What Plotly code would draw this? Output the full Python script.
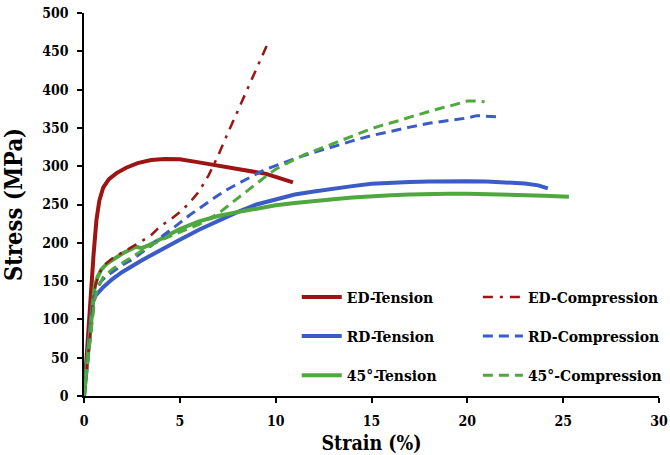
import plotly.graph_objects as go

# ---------------- data ----------------
ed_t_x = [0, 0.1, 0.2, 0.3, 0.4, 0.5, 0.65, 0.8, 1.0, 1.3, 1.7, 2.2, 2.8, 3.5, 4.2, 5.0, 6.0, 7.0, 8.0, 9.0, 9.5, 10.0, 10.9]
ed_t_y = [0, 40, 80, 120, 150, 185, 230, 255, 272, 283, 291, 298, 304, 308, 309.5, 309, 305, 301, 297, 292.5, 290, 286, 279]

ed_c_x = [0, 0.15, 0.3, 0.45, 0.6, 0.8, 1.0, 1.5, 2.0, 2.5, 3.0, 3.5, 4.0, 4.5, 5.0, 5.5, 6.0, 6.5, 7.0, 7.5, 8.0, 8.5, 9.0, 9.6]
ed_c_y = [0, 35, 75, 120, 145, 160, 170, 180, 187, 195, 202, 210, 222, 230, 240, 252, 267, 288, 314, 343, 371, 400, 428, 461]

rd_t_x = [0, 0.15, 0.3, 0.45, 0.6, 0.8, 1.0, 1.5, 2, 3, 4, 5, 6, 7, 8, 9, 10, 11, 12, 13, 14, 15, 16, 17, 18, 19, 20, 21, 22, 23, 23.7, 24.2]
rd_t_y = [0, 45, 90, 122, 131, 137, 142, 153, 162, 177, 191, 204, 217, 229, 240, 250, 257, 263, 267, 271, 274, 277, 278.5, 279.5, 280, 280.5, 280.5, 280, 279, 277.5, 275, 271]

rd_c_x = [0, 0.2, 0.4, 0.55, 0.7, 0.9, 1.2, 1.6, 2, 2.5, 3, 3.5, 4, 4.5, 5, 5.5, 6, 6.5, 7, 7.5, 8, 8.5, 9, 9.5, 10, 11, 12, 13, 14, 15, 16, 17, 18, 19, 20, 20.5, 21, 21.5, 21.8]
rd_c_y = [0, 50, 100, 130, 142, 150, 157, 164, 171, 178, 187, 196, 207, 216, 226, 236, 245, 254, 262, 270, 277, 284, 290, 296, 301, 310, 318, 326, 333, 340, 346, 351, 356, 360, 363, 366, 365, 364, 364]

d45_t_x = [0, 0.15, 0.3, 0.45, 0.55, 0.7, 0.9, 1.2, 1.6, 2.0, 2.4, 2.7, 3.0, 3.4, 4, 5, 6, 7, 8, 9, 10, 11, 12, 13, 14, 15, 16, 17, 18, 19, 20, 21, 22, 23, 24, 25.3]
d45_t_y = [0, 40, 85, 125, 142, 155, 165, 173, 180, 186, 191, 195, 193, 197, 205, 218, 228, 235, 240, 245, 249, 252, 255, 257, 259, 261, 262, 263, 264, 264, 264, 263.5, 262.5, 262, 261.5, 260]

d45_c_x = [0, 0.2, 0.4, 0.55, 0.7, 1.0, 1.5, 2, 2.5, 3, 3.5, 4, 4.5, 5, 5.5, 6, 6.5, 7, 7.5, 8, 8.5, 9, 9.5, 10, 10.5, 11, 11.5, 12, 12.5, 13, 13.5, 14, 14.5, 15, 15.5, 16, 16.5, 17, 17.5, 18, 18.5, 19, 19.5, 20, 20.5, 20.9]
d45_c_y = [0, 45, 95, 125, 140, 155, 166, 174, 182, 190, 197, 203, 209, 214, 219, 224, 231, 238, 248, 258, 268, 278, 287, 296, 303, 309, 315, 320, 325, 330, 335, 340, 345, 349, 353, 356, 360, 364, 368, 371, 375, 378, 382, 385, 385, 384]

x_ticks = [0, 5, 10, 15, 20, 25, 30]
y_ticks = [0, 50, 100, 150, 200, 250, 300, 350, 400, 450, 500]

RED = "#9C1414"
BLUE = "#3B5BC6"
GREEN = "#4EA83E"
SERIF = "DejaVu Serif Condensed, DejaVu Serif"

fig = go.Figure()

series = [
    ("<b>ED-Tension</b>", ed_t_x, ed_t_y, RED, "solid", 4, "legend", "g1"),
    ("<b>RD-Tension</b>", rd_t_x, rd_t_y, BLUE, "solid", 4, "legend", "g2"),
    ("<b>45°-Tension</b>", d45_t_x, d45_t_y, GREEN, "solid", 4, "legend", "g3"),
    ("<b>ED-Compression</b>", ed_c_x, ed_c_y, RED, "10px,7px,3px,7px", 2.5, "legend2", "g4"),
    ("<b>RD-Compression</b>", rd_c_x, rd_c_y, BLUE, "10px,6px", 3, "legend2", "g5"),
    ("<b>45°-Compression</b>", d45_c_x, d45_c_y, GREEN, "10px,6px", 3, "legend2", "g6"),
]
for name, xs, ys, col, dash, w, leg, grp in series:
    fig.add_trace(go.Scatter(x=xs, y=ys, mode="lines", name=name,
                             line=dict(color=col, width=w, dash=dash),
                             legend=leg, legendgroup=grp))

legend_common = dict(
    font=dict(family=SERIF, size=15.5, color="black"),
    bgcolor="rgba(0,0,0,0)", borderwidth=0,
    tracegroupgap=16, itemwidth=40, traceorder="grouped",
    xanchor="left", yanchor="top", xref="paper", yref="paper",
)

fig.update_layout(
    width=670, height=455,
    margin=dict(l=84, r=11, t=13, b=59, autoexpand=False),
    paper_bgcolor="white", plot_bgcolor="white",
    font=dict(family=SERIF, color="black"),
    showlegend=True,
    legend=dict(x=0.37, y=0.302, **legend_common),
    legend2=dict(x=0.685, y=0.302, **legend_common),
    xaxis=dict(range=[0, 30], tickvals=x_ticks, ticktext=[f"<b>{v}</b>" for v in x_ticks],
               ticks="outside", ticklen=5, tickwidth=1.5,
               tickcolor="black", showline=True, linecolor="black", linewidth=1.5,
               showgrid=False, zeroline=False, ticklabelstandoff=6,
               tickfont=dict(family=SERIF, size=14, color="black"),
               title=dict(text="<b>Strain (%)</b>", standoff=9,
                          font=dict(family=SERIF, size=19.5, color="black"))),
    yaxis=dict(range=[0, 500], tickvals=y_ticks, ticktext=[f"<b>{v}</b>" for v in y_ticks],
               ticks="outside", ticklen=5, tickwidth=1.5,
               tickcolor="black", showline=True, linecolor="black", linewidth=1.5,
               showgrid=False, zeroline=False, ticklabelstandoff=6,
               tickfont=dict(family=SERIF, size=14, color="black"),
               title=dict(text="<b>Stress (MPa)</b>", standoff=17,
                          font=dict(family=SERIF, size=23.5, color="black"))),
)

fig.write_html("out.html")
